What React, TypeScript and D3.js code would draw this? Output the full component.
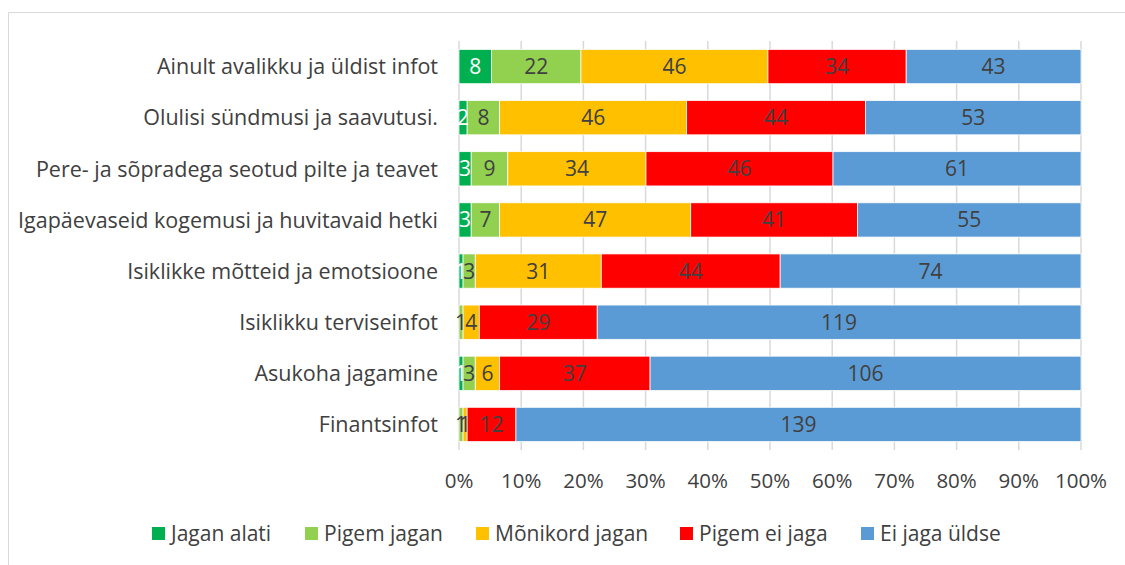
import React from "react";
import * as d3 from "d3";

const categories = [
  "Ainult avalikku ja üldist infot",
  "Olulisi sündmusi ja saavutusi.",
  "Pere- ja sõpradega seotud pilte ja teavet",
  "Igapäevaseid kogemusi ja huvitavaid hetki",
  "Isiklikke mõtteid ja emotsioone",
  "Isiklikku terviseinfot",
  "Asukoha jagamine",
  "Finantsinfot",
];

const seriesNames = ["Jagan alati", "Pigem jagan", "Mõnikord jagan", "Pigem ei jaga", "Ei jaga üldse"];
const seriesColors = ["#00b050", "#92d050", "#ffc000", "#ff0000", "#5b9bd5"];

const jaganAlati = [8, 2, 3, 3, 1, 0, 1, 0];
const pigemJagan = [22, 8, 9, 7, 3, 1, 3, 1];
const monikordJagan = [46, 46, 34, 47, 31, 4, 6, 1];
const pigemEiJaga = [34, 44, 46, 41, 44, 29, 37, 12];
const eiJagaUldse = [43, 53, 61, 55, 74, 119, 106, 139];

const series = [jaganAlati, pigemJagan, monikordJagan, pigemEiJaga, eiJagaUldse];
const ticks = [0, 0.1, 0.2, 0.3, 0.4, 0.5, 0.6, 0.7, 0.8, 0.9, 1];

const W = 1125;
const H = 565;
const left = 459;
const right = 1081;
const top = 41;
const bottom = 450;
const font = "'Open Sans', 'Liberation Sans', sans-serif";
const textColor = "#404040";

export default function App() {
  const x = d3.scaleLinear().domain([0, 1]).range([left, right]);
  const y = d3.scaleBand().domain(categories).range([top, bottom]).paddingInner(0.33).paddingOuter(0.165);

  // stacked shares per row
  const rows = categories.map((c, i) => {
    const vals = series.map((s) => s[i]);
    const total = d3.sum(vals);
    let acc = 0;
    return vals.map((v, k) => {
      const x0 = acc / total;
      acc += v;
      return { cat: c, k, v, x0, x1: acc / total };
    });
  });

  const legendX = [152, 305, 476, 680, 861];

  return (
    <svg width={W} height={H} style={{ position: "absolute", left: 0, top: 0 }} fontFamily={font}>
      <rect x={0} y={0} width={W} height={H} fill="#fff" />
      <path d={`M8.5,${H} V12.5 H${W}`} fill="none" stroke="#d9d9d9" strokeWidth={1} />
      {ticks.map((t) => (
        <line key={t} x1={x(t)} x2={x(t)} y1={top} y2={bottom} stroke="#d9d9d9" strokeWidth={1.5} />
      ))}
      {rows.map((segs) =>
        segs.map((s) =>
          s.v > 0 ? (
            <rect
              key={s.cat + s.k}
              x={x(s.x0)}
              y={y(s.cat)}
              width={x(s.x1) - x(s.x0)}
              height={y.bandwidth()}
              fill={seriesColors[s.k]}
              stroke="#fff"
              strokeWidth={0.75}
            />
          ) : null
        )
      )}
      {rows.map((segs) =>
        segs.map((s) =>
          s.v > 0 ? (
            <text
              key={"t" + s.cat + s.k}
              x={(x(s.x0) + x(s.x1)) / 2}
              y={(y(s.cat) as number) + y.bandwidth() / 2}
              dy="0.36em"
              textAnchor="middle"
              fontSize={21}
              fill={s.k === 0 ? "#fff" : textColor}
            >
              {s.v}
            </text>
          ) : null
        )
      )}
      {categories.map((c) => (
        <text
          key={c}
          x={438}
          y={(y(c) as number) + y.bandwidth() / 2}
          dy="0.36em"
          textAnchor="end"
          fontSize={21.5}
          fill={textColor}
        >
          {c}
        </text>
      ))}
      {ticks.map((t) => (
        <text key={"x" + t} x={x(t)} y={481} dy="0.36em" textAnchor="middle" fontSize={20.5} fill={textColor}>
          {d3.format(".0%")(t)}
        </text>
      ))}
      {seriesNames.map((n, i) => (
        <g key={n}>
          <rect x={legendX[i]} y={527} width={13} height={13} fill={seriesColors[i]} />
          <text x={legendX[i] + 19} y={533.5} dy="0.36em" fontSize={21} fill={textColor}>
            {n}
          </text>
        </g>
      ))}
    </svg>
  );
}
